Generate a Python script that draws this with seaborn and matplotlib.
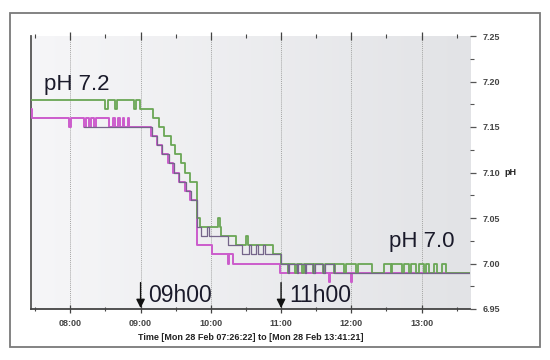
import numpy as np
import pandas as pd
import matplotlib
matplotlib.use("Agg")
import matplotlib.pyplot as plt
from matplotlib.patches import Rectangle
from matplotlib.colors import LinearSegmentedColormap
from matplotlib.ticker import FixedLocator, MultipleLocator
import seaborn as sns

# time in decimal hours, pH readings (step data)
green_t = [7.44, 8.50, 8.53, 8.64, 8.67, 8.90, 8.93, 8.99, 9.17, 9.26, 9.33, 9.43, 9.49,
           9.57, 9.63, 9.70, 9.80, 9.85, 10.10, 10.13, 10.14, 10.36, 10.50, 10.53, 10.89,
           11.00, 11.10, 11.12, 11.20, 11.22, 11.30, 11.32, 11.45, 11.47, 11.60, 11.62,
           11.75, 11.77, 11.90, 11.92, 11.97, 12.07, 12.09, 12.29, 12.47, 12.57, 12.58,
           12.72, 12.75, 12.82, 12.85, 12.92, 12.96, 13.04, 13.06, 13.11, 13.18, 13.22,
           13.29, 13.35, 13.69]
green_ph = [7.18, 7.17, 7.18, 7.17, 7.18, 7.17, 7.18, 7.17, 7.16, 7.15, 7.14, 7.13, 7.12,
            7.11, 7.10, 7.09, 7.05, 7.04, 7.05, 7.04, 7.03, 7.02, 7.03, 7.02, 7.01,
            7.00, 6.99, 7.00, 6.99, 7.00, 6.99, 7.00, 6.99, 7.00, 6.99, 7.00,
            6.99, 7.00, 6.99, 7.00, 7.00, 6.99, 7.00, 6.99, 7.00, 6.99, 7.00,
            6.99, 7.00, 6.99, 7.00, 6.99, 7.00, 6.99, 7.00, 6.99, 7.00, 6.99,
            7.00, 6.99, 6.99]

magenta_t = [7.44, 7.46, 7.98, 8.01, 8.20, 8.22, 8.27, 8.29, 8.34, 8.36, 8.55, 8.61, 8.63,
             8.68, 8.70, 8.75, 8.77, 8.82, 8.84, 9.15, 9.23, 9.30, 9.39, 9.46, 9.54, 9.63,
             9.71, 9.80, 10.02, 10.24, 10.26, 10.31, 10.98, 11.68, 11.70, 11.99, 12.01, 13.69]
magenta_ph = [7.17, 7.16, 7.15, 7.16, 7.15, 7.16, 7.15, 7.16, 7.15, 7.16, 7.15, 7.16, 7.15,
              7.16, 7.15, 7.16, 7.15, 7.16, 7.15, 7.14, 7.13, 7.12, 7.11, 7.10, 7.09, 7.08,
              7.07, 7.02, 7.01, 7.00, 7.01, 7.00, 6.99, 6.98, 6.99, 6.98, 6.99, 6.99]

violet_t = [8.20, 9.16, 9.24, 9.31, 9.40, 9.47, 9.55, 9.64, 9.72, 9.80, 9.86, 9.95, 9.97,
            10.25, 10.45, 10.55, 10.57, 10.65, 10.67, 10.75, 10.77, 11.00, 11.10, 11.12,
            11.22, 11.24, 11.34, 11.36, 11.46, 11.48, 11.60, 11.62, 11.75, 13.69]
violet_ph = [7.15, 7.14, 7.13, 7.12, 7.11, 7.10, 7.09, 7.08, 7.07, 7.04, 7.03, 7.04, 7.03,
             7.02, 7.01, 7.02, 7.01, 7.02, 7.01, 7.02, 7.01, 7.00, 6.99, 7.00,
             6.99, 7.00, 6.99, 7.00, 6.99, 7.00, 6.99, 7.00, 6.99, 6.99]

hour_ticks = [8, 9, 10, 11, 12, 13]
hour_labels = ["08:00", "09:00", "10:00", "11:00", "12:00", "13:00"]
ph_ticks = [6.95, 7.00, 7.05, 7.10, 7.15, 7.20, 7.25]

sns.set_theme(style="white")
plt.rcParams["font.family"] = ["Liberation Sans", "DejaVu Sans"]

fig = plt.figure(figsize=(5.5, 3.6), dpi=100)
ax = fig.add_axes([31/550, 1-309/360, 439/550, 273/360])

# outer frame
fig.patches.append(Rectangle((10/550, 13/360), 530/550, 334/360, transform=fig.transFigure,
                             fill=False, edgecolor="#7a7a7a", lw=1.3))

# light gray gradient background
cmap = LinearSegmentedColormap.from_list("bg", ["#f6f6f8", "#e2e3e6"])
ax.imshow(np.linspace(0, 1, 256)[None, :], cmap=cmap, extent=[0, 1, 0, 1],
          transform=ax.transAxes, aspect="auto", zorder=0)

sns.lineplot(x=magenta_t, y=magenta_ph, ax=ax, color="#cc5ccc", lw=1.4,
             drawstyle="steps-post", estimator=None, zorder=3)
sns.lineplot(x=green_t, y=green_ph, ax=ax, color="#6aa655", lw=1.3,
             drawstyle="steps-post", estimator=None, zorder=4)
sns.lineplot(x=violet_t, y=violet_ph, ax=ax, color="#75658a", lw=0.9,
             drawstyle="steps-post", estimator=None, zorder=5)

ax.set_xlim(7.44, 13.69)
ax.set_ylim(6.95, 7.25)

ax.xaxis.set_major_locator(FixedLocator(hour_ticks))
ax.set_xticklabels(hour_labels)
ax.xaxis.set_minor_locator(MultipleLocator(0.5))
ax.grid(axis="x", which="major", linestyle=(0, (1, 1)), color="#a5a5a5", lw=0.7)
ax.set_axisbelow(False)

ax.yaxis.tick_right()
ax.yaxis.set_label_position("right")
ax.yaxis.set_major_locator(FixedLocator(ph_ticks))
ax.set_yticklabels([f"{v:.2f}" for v in ph_ticks])
ax.yaxis.set_minor_locator(MultipleLocator(0.025))

ax.tick_params(axis="x", which="both", bottom=True, top=True, direction="inout",
               color="#444444", labelsize=6.5, labelcolor="#444444", pad=4)
ax.tick_params(axis="x", which="major", length=6, width=0.9)
ax.tick_params(axis="x", which="minor", length=3, width=0.8)
ax.tick_params(axis="y", which="both", right=True, left=False, direction="out",
               color="#555555", labelsize=6.5, labelcolor="#444444", pad=5)
ax.tick_params(axis="y", which="major", length=4, width=0.9)
ax.tick_params(axis="y", which="minor", length=3, width=0.8)
for lab in ax.get_xticklabels() + ax.get_yticklabels():
    lab.set_fontweight("bold")

for s in ["top", "right"]:
    ax.spines[s].set_visible(False)
ax.spines["left"].set_color("#555555")
ax.spines["left"].set_linewidth(1.3)
ax.spines["bottom"].set_color("#444444")
ax.spines["bottom"].set_linewidth(1.3)

ax.set_xlabel("Time [Mon 28 Feb 07:26:22] to [Mon 28 Feb 13:41:21]", fontsize=6.5,
              fontweight="bold", color="#222222", labelpad=4)
ax.set_ylabel("pH", rotation=0, fontsize=6.5, fontweight="bold", color="#222222",
              va="center", ha="left", labelpad=3)

# annotations
ax.text(7.62, 7.191, "pH 7.2", fontsize=16, color="#1a1a2a", va="baseline", zorder=6)
ax.text(12.54, 7.018, "pH 7.0", fontsize=16, color="#1a1a2a", va="baseline", zorder=6)
for h, lab in [(9.0, "09h00"), (11.0, "11h00")]:
    ax.annotate("", xy=(h, 6.951), xytext=(h, 6.979),
                arrowprops=dict(arrowstyle="-|>", color="#111111", lw=1.0,
                                mutation_scale=13, shrinkA=0, shrinkB=0), zorder=6)
    ax.text(h + 0.11, 6.958, lab, fontsize=16.5, color="#1a1a2a", va="baseline", zorder=6)

fig.savefig("out.png", dpi=100)
